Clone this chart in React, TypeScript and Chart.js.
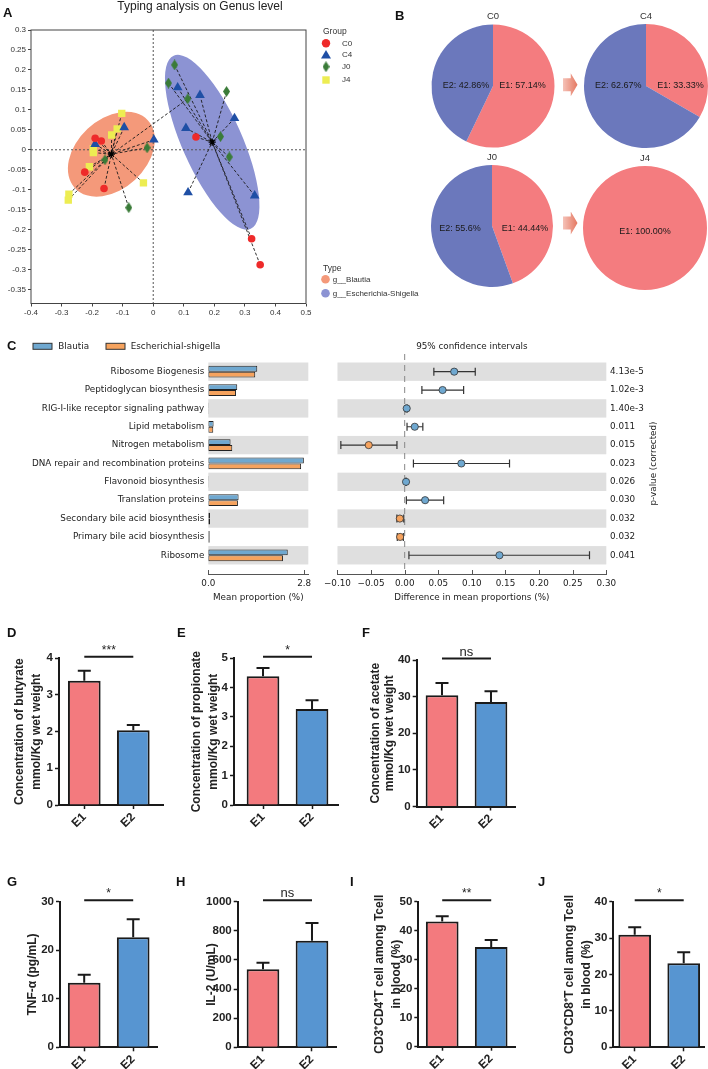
import React, { useEffect, useRef } from "react";
import { Chart, registerables } from "chart.js";

Chart.register(...registerables);

const SANS = "'Liberation Sans', Arial, Helvetica, sans-serif";
const DEJAVU = "'DejaVu Sans', 'Liberation Sans', sans-serif";

// ---------------- Panel A data ----------------
const groupNames = ["C0", "C4", "J0", "J4"];
const c0X = [-0.19, -0.17, -0.224, -0.161, 0.14, 0.322, 0.35];
const c0Y = [0.029, 0.022, -0.056, -0.097, 0.032, -0.223, -0.288];
const c0Type = [0, 0, 0, 0, 1, 1, 1];
const c4X = [-0.19, -0.095, 0.002, 0.08, 0.153, 0.107, 0.266, 0.114, 0.332];
const c4Y = [0.014, 0.056, 0.025, 0.156, 0.137, 0.054, 0.079, -0.107, -0.115];
const c4Type = [0, 0, 0, 1, 1, 1, 1, 1, 1];
const j0X = [0.07, 0.05, 0.113, 0.24, 0.22, 0.249, -0.02, -0.158, -0.08];
const j0Y = [0.2125, 0.167, 0.1275, 0.146, 0.033, -0.018, 0.005, -0.025, -0.145];
const j0Type = [1, 1, 0, 1, 1, 1, 0, 0, 0];
const j4X = [-0.103, -0.118, -0.136, -0.196, -0.196, -0.209, -0.032, -0.276, -0.278];
const j4Y = [0.091, 0.0525, 0.037, 0.0025, -0.007, -0.0425, -0.083, -0.111, -0.126];
const j4Type = [0, 0, 0, 0, 0, 0, 0, 0, 0];
const typeNames = ["g__Blautia", "g__Escherichia-Shigella"];
const typeCenterX = [-0.137, 0.193];
const typeCenterY = [-0.011, 0.019];
const typeSemiMajor = [0.163, 0.31];
const typeSemiMinor = [0.114, 0.098];
const typeTiltDeg = [-43, 66];

// ---------------- Panel B data ----------------
const pieTitles = ["C0", "C4", "J0", "J4"];
const pieE1 = [57.14, 33.33, 44.44, 100];
const pieE2 = [42.86, 66.67, 55.56, 0];
const pieLabelE1 = ["E1: 57.14%", "E1: 33.33%", "E1: 44.44%", "E1: 100.00%"];
const pieLabelE2 = ["E2: 42.86%", "E2: 62.67%", "E2: 55.6%", ""];

// ---------------- Panel C data ----------------
const pathways = [
  "Ribosome Biogenesis",
  "Peptidoglycan biosynthesis",
  "RIG-I-like receptor signaling pathway",
  "Lipid metabolism",
  "Nitrogen metabolism",
  "DNA repair and recombination proteins",
  "Flavonoid biosynthesis",
  "Translation proteins",
  "Secondary bile acid biosynthesis",
  "Primary bile acid biosynthesis",
  "Ribosome",
];
const blautiaMean = [1.43, 0.845, 0.012, 0.155, 0.65, 2.79, 0.012, 0.885, 0.05, 0.04, 2.32];
const escherichiaMean = [1.37, 0.81, 0.01, 0.145, 0.7, 2.71, 0.01, 0.865, 0.05, 0.04, 2.18];
const diffMean = [0.0737, 0.0564, 0.003, 0.015, -0.0535, 0.0843, 0.002, 0.0304, -0.0072, -0.0068, 0.141];
const diffLow = [0.0434, 0.0256, 0.002, 0.0035, -0.095, 0.013, 0.0015, 0.0025, -0.0116, -0.011, 0.0063];
const diffHigh = [0.105, 0.0877, 0.004, 0.027, -0.0115, 0.156, 0.0025, 0.058, -0.0014, -0.002, 0.275];
const pValues = ["4.13e-5", "1.02e-3", "1.40e-3", "0.011", "0.015", "0.023", "0.026", "0.030", "0.032", "0.032", "0.041"];
const meanPropTicks = [0, 2.8];

// ---------------- Panels D-J data ----------------
const barGroups = ["E1", "E2"];
const butyrateMean = [3.39, 2.04];
const butyrateErr = [0.27, 0.14];
const propionateMean = [4.39, 3.27];
const propionateErr = [0.28, 0.3];
const acetateMean = [30.4, 28.5];
const acetateErr = [3.3, 3.0];
const tnfMean = [13.3, 22.7];
const tnfErr = [1.66, 3.7];
const il2Mean = [536, 732];
const il2Err = [45, 122];
const cd4Mean = [43.2, 34.4];
const cd4Err = [1.8, 2.4];
const cd8Mean = [30.9, 23.1];
const cd8Err = [2.1, 3.0];
const sigLabels = ["***", "*", "ns", "*", "ns", "**", "*"];

// ---------------- Styles ----------------
const C0C = "#EE2A2A";
const C4C = "#1F4FA5";
const J0C = "#3A7B38";
const J4C = "#EDED52";
const typeColors = ["#F4997A", "#8C93D3"];
const PIE_E1 = "#F47C7F";
const PIE_E2 = "#6B78BC";
const BLAUTIA_C = "#6FA8D0";
const ESCH_C = "#F6A35E";
const BAR_E1 = "#F37A7E";
const BAR_E2 = "#5795D1";

function baseOptions(): any {
  return {
    responsive: false,
    maintainAspectRatio: false,
    animation: false,
    devicePixelRatio: 1,
    events: [],
    plugins: { legend: { display: false }, tooltip: { enabled: false }, title: { display: false } },
  };
}

function makeDiamond(color: string) {
  const c = document.createElement("canvas");
  c.width = 7;
  c.height = 11;
  const g = c.getContext("2d")!;
  g.fillStyle = color;
  g.beginPath();
  g.moveTo(3.5, 0);
  g.lineTo(7, 5.5);
  g.lineTo(3.5, 11);
  g.lineTo(0, 5.5);
  g.closePath();
  g.fill();
  return c;
}

function fmt2(v: any) {
  const n = Math.round(Number(v) * 100) / 100;
  return String(n === 0 ? 0 : n);
}

// ---------------- Panel A ----------------
function buildA() {
  const diamond = makeDiamond(J0C);
  const groups: any[] = [
    { xs: c0X, ys: c0Y, ts: c0Type, style: "circle", r: 3.8, color: C0C },
    { xs: c4X, ys: c4Y, ts: c4Type, style: "triangle", r: 5.6, color: C4C },
    { xs: j0X, ys: j0Y, ts: j0Type, style: diamond, r: 5, color: J0C },
    { xs: j4X, ys: j4Y, ts: j4Type, style: "rect", r: 5.2, color: J4C },
  ];
  const datasets: any[] = [];
  groups.forEach((g) =>
    g.xs.forEach((x: number, i: number) => {
      const t = g.ts[i];
      datasets.push({
        type: "line",
        data: [
          { x, y: g.ys[i] },
          { x: typeCenterX[t], y: typeCenterY[t] },
        ],
        borderColor: "#1a1a1a",
        borderWidth: 0.9,
        borderDash: [3, 2],
        pointRadius: 0,
        fill: false,
        order: 5,
      });
    })
  );
  groups.forEach((g, gi) =>
    datasets.push({
      type: "scatter",
      label: groupNames[gi],
      data: g.xs.map((x: number, i: number) => ({ x, y: g.ys[i] })),
      pointStyle: g.style,
      pointRadius: g.r,
      backgroundColor: g.color,
      borderColor: g.color,
      borderWidth: 0,
      order: 2,
    })
  );
  datasets.push({
    type: "scatter",
    data: typeCenterX.map((x, i) => ({ x, y: typeCenterY[i] })),
    pointStyle: "star",
    pointRadius: 3.6,
    borderColor: "#000",
    backgroundColor: "#000",
    borderWidth: 1.3,
    order: 1,
  });

  const decor = {
    id: "aDecor",
    beforeDatasetsDraw(chart: any) {
      const { ctx, chartArea: a } = chart;
      const xs = chart.scales.x;
      const ys = chart.scales.y;
      const ppu = Math.abs(xs.getPixelForValue(1) - xs.getPixelForValue(0));
      ctx.save();
      typeCenterX.forEach((cx, i) => {
        ctx.beginPath();
        ctx.ellipse(
          xs.getPixelForValue(cx),
          ys.getPixelForValue(typeCenterY[i]),
          typeSemiMajor[i] * ppu,
          typeSemiMinor[i] * ppu,
          (typeTiltDeg[i] * Math.PI) / 180,
          0,
          Math.PI * 2
        );
        ctx.fillStyle = typeColors[i];
        ctx.fill();
      });
      const x0 = xs.getPixelForValue(0);
      const y0 = ys.getPixelForValue(0);
      ctx.setLineDash([2, 2]);
      ctx.strokeStyle = "#555";
      ctx.lineWidth = 1;
      ctx.beginPath();
      ctx.moveTo(x0, a.top);
      ctx.lineTo(x0, a.bottom);
      ctx.moveTo(a.left, y0);
      ctx.lineTo(a.right, y0);
      ctx.stroke();
      ctx.restore();
    },
    afterDraw(chart: any) {
      const { ctx, chartArea: a } = chart;
      ctx.save();
      ctx.strokeStyle = "#444";
      ctx.lineWidth = 1;
      ctx.strokeRect(a.left, a.top, a.right - a.left, a.bottom - a.top);
      ctx.fillStyle = "#222";
      ctx.font = `12px ${SANS}`;
      ctx.textAlign = "center";
      ctx.textBaseline = "middle";
      ctx.fillText("Typing analysis on Genus level", 200, 6.5);
      // legend
      ctx.textAlign = "left";
      ctx.fillStyle = "#333";
      ctx.font = `8.5px ${SANS}`;
      ctx.fillText("Group", 323, 31.7);
      ctx.font = `8px ${SANS}`;
      const ly = [43.3, 55, 66.7, 80];
      ly.forEach((y, i) => ctx.fillText(groupNames[i], 342, y));
      ctx.fillStyle = C0C;
      ctx.beginPath();
      ctx.arc(326, ly[0], 4.2, 0, Math.PI * 2);
      ctx.fill();
      ctx.fillStyle = C4C;
      ctx.beginPath();
      ctx.moveTo(326, ly[1] - 5);
      ctx.lineTo(331, ly[1] + 3.5);
      ctx.lineTo(321, ly[1] + 3.5);
      ctx.closePath();
      ctx.fill();
      ctx.drawImage(diamond, 326 - 3.5, ly[2] - 5.5);
      ctx.fillStyle = J4C;
      ctx.fillRect(322.3, ly[3] - 3.7, 7.4, 7.4);
      ctx.fillStyle = "#333";
      ctx.font = `8.5px ${SANS}`;
      ctx.fillText("Type", 323, 268.3);
      ctx.font = `8px ${SANS}`;
      const ty = [279.3, 293.3];
      ty.forEach((y, i) => {
        ctx.fillStyle = typeColors[i];
        ctx.beginPath();
        ctx.arc(325.5, y, 4.3, 0, Math.PI * 2);
        ctx.fill();
        ctx.fillStyle = "#333";
        ctx.fillText(typeNames[i], 332.7, y);
      });
      ctx.restore();
    },
  };

  const tickFont = { size: 8, family: SANS };
  return {
    type: "scatter",
    data: { datasets },
    options: {
      ...baseOptions(),
      layout: { padding: { left: 0, top: 30, right: 114, bottom: 0 } },
      scales: {
        x: {
          type: "linear",
          min: -0.4,
          max: 0.5,
          afterFit: (s: any) => {
            s.height = 16.5;
          },
          border: { display: false },
          grid: { drawOnChartArea: false, drawTicks: true, tickLength: 3, color: "#444" },
          ticks: { stepSize: 0.1, includeBounds: false, padding: 1.5, font: tickFont, color: "#333", callback: fmt2, maxRotation: 0, autoSkip: false },
        },
        y: {
          type: "linear",
          min: -0.385,
          max: 0.3,
          afterFit: (s: any) => {
            s.width = 31;
          },
          border: { display: false },
          grid: { drawOnChartArea: false, drawTicks: true, tickLength: 3, color: "#444" },
          ticks: { stepSize: 0.05, includeBounds: false, padding: 2, font: tickFont, color: "#333", callback: fmt2, autoSkip: false },
        },
      },
    },
    plugins: [decor],
  };
}

// ---------------- Panel B ----------------
const pieGeom = [
  { cx: 492.5, cy: 86, r: 61.5, dx: [29.5, -27], dy: 0 },
  { cx: 646, cy: 86, r: 62, dx: [34.5, -27.7], dy: 0 },
  { cx: 492, cy: 226, r: 61, dx: [33, -32], dy: 3 },
  { cx: 645, cy: 227.5, r: 62, dx: [0, 0], dy: 3.5 },
];
const PIE_W = 150;
const PIE_H = 150;
const PIE_OX = 75;
const PIE_OY = 80;

function buildPie(i: number) {
  const g = pieGeom[i];
  const text = {
    id: "pieText",
    afterDraw(chart: any) {
      const { ctx } = chart;
      ctx.save();
      ctx.textAlign = "center";
      ctx.textBaseline = "middle";
      ctx.fillStyle = "#333";
      ctx.font = `9.5px ${SANS}`;
      ctx.fillText(pieTitles[i], PIE_OX, PIE_OY - g.r - 8);
      ctx.fillStyle = "#1a1a1a";
      ctx.font = `9px ${SANS}`;
      if (pieLabelE1[i]) ctx.fillText(pieLabelE1[i], PIE_OX + g.dx[0], PIE_OY + g.dy);
      if (pieLabelE2[i]) ctx.fillText(pieLabelE2[i], PIE_OX + g.dx[1], PIE_OY + g.dy);
      ctx.restore();
    },
  };
  return {
    type: "pie",
    data: {
      labels: ["E1", "E2"],
      datasets: [
        {
          data: [pieE1[i], pieE2[i]],
          backgroundColor: [PIE_E1, PIE_E2],
          borderWidth: 0,
          hoverOffset: 0,
          offset: 0,
        },
      ],
    },
    options: {
      ...baseOptions(),
      layout: {
        padding: {
          left: PIE_OX - g.r,
          right: PIE_W - PIE_OX - g.r,
          top: PIE_OY - g.r,
          bottom: PIE_H - PIE_OY - g.r,
        },
      },
    },
    plugins: [text],
  };
}

// ---------------- Panel C ----------------
const C_TOP = 330;
const C_H = 280;
const cTickFont = { size: 8.8, family: DEJAVU };

function bandsPlugin(extra: (chart: any) => void, before?: (chart: any) => void) {
  return {
    id: "cDecor",
    beforeDatasetsDraw(chart: any) {
      const { ctx, chartArea: a } = chart;
      const ys = chart.scales.y;
      ctx.save();
      ctx.fillStyle = "#DFDFDF";
      pathways.forEach((_, i) => {
        if (i % 2 !== 0) return;
        const y1 = ys.getPixelForValue(i - 0.5);
        const y2 = ys.getPixelForValue(i + 0.5);
        ctx.fillRect(a.left, y1, a.right - a.left, y2 - y1);
      });
      ctx.restore();
      if (before) before(chart);
    },
    afterDraw(chart: any) {
      const { ctx, chartArea: a } = chart;
      const xs = chart.scales.x;
      ctx.save();
      ctx.strokeStyle = "#555";
      ctx.lineWidth = 1;
      ctx.beginPath();
      xs.ticks.forEach((t: any) => {
        const px = Math.round(xs.getPixelForValue(t.value)) + 0.5;
        ctx.moveTo(px, a.bottom);
        ctx.lineTo(px, a.bottom - 4);
      });
      ctx.stroke();
      ctx.restore();
      extra(chart);
    },
  };
}

function buildCLeft() {
  const legend = (chart: any) => {
    const { ctx } = chart;
    ctx.save();
    ctx.strokeStyle = "#333";
    ctx.lineWidth = 1;
    ctx.fillStyle = BLAUTIA_C;
    ctx.fillRect(33, 13.3, 19, 6);
    ctx.strokeRect(33, 13.3, 19, 6);
    ctx.fillStyle = ESCH_C;
    ctx.fillRect(106, 13.3, 19, 6);
    ctx.strokeRect(106, 13.3, 19, 6);
    ctx.fillStyle = "#222";
    ctx.font = `8.8px ${DEJAVU}`;
    ctx.textBaseline = "middle";
    ctx.textAlign = "left";
    ctx.fillText("Blautia", 58.3, 16.3);
    ctx.fillText("Escherichial-shigella", 130.7, 16.3);
    ctx.restore();
  };
  return {
    type: "bar",
    data: {
      datasets: [
        {
          label: "Blautia",
          data: blautiaMean.map((v, i) => ({ x: v, y: i })),
          backgroundColor: BLAUTIA_C,
          borderColor: "#222",
          borderWidth: 1,
          borderSkipped: false,
          barPercentage: 1,
          categoryPercentage: 0.64,
        },
        {
          label: "Escherichial-shigella",
          data: escherichiaMean.map((v, i) => ({ x: v, y: i })),
          backgroundColor: ESCH_C,
          borderColor: "#222",
          borderWidth: 1,
          borderSkipped: false,
          barPercentage: 1,
          categoryPercentage: 0.64,
        },
      ],
    },
    options: {
      ...baseOptions(),
      indexAxis: "y",
      layout: { padding: { left: 0, top: 32.5, right: 11.7, bottom: 0 } },
      scales: {
        x: {
          type: "linear",
          offset: false,
          min: 0,
          max: 2.92,
          afterBuildTicks: (s: any) => {
            s.ticks = meanPropTicks.map((v) => ({ value: v }));
          },
          afterFit: (s: any) => {
            s.height = 36;
          },
          grid: { display: false, drawTicks: false, offset: false },
          border: { display: true, color: "#555", width: 1 },
          ticks: { font: cTickFont, color: "#222", padding: 4, maxRotation: 0, autoSkip: false, callback: (v: any) => Number(v).toFixed(1) },
          title: { display: true, text: "Mean proportion (%)", font: cTickFont, color: "#222", padding: { top: 0, bottom: 6.7 } },
        },
        y: {
          type: "linear",
          offset: false,
          reverse: true,
          min: -0.5,
          max: 11.02,
          afterBuildTicks: (s: any) => {
            s.ticks = pathways.map((_, i) => ({ value: i }));
          },
          afterFit: (s: any) => {
            s.width = 208.3;
          },
          grid: { display: false, drawTicks: false, offset: false },
          border: { display: false },
          ticks: { autoSkip: false, padding: 4, font: cTickFont, color: "#222", callback: (v: any) => pathways[v] ?? "" },
        },
      },
    },
    plugins: [bandsPlugin(legend)],
  };
}

function buildCRight() {
  const datasets: any[] = [];
  pathways.forEach((_, i) =>
    datasets.push({
      type: "line",
      data: [
        { x: diffLow[i], y: i },
        { x: diffHigh[i], y: i },
      ],
      borderColor: "#333",
      borderWidth: 1.2,
      pointStyle: "line",
      pointRotation: 90,
      pointRadius: 4,
      pointBorderColor: "#333",
      pointBorderWidth: 1.2,
      order: 3,
    })
  );
  datasets.push({
    type: "scatter",
    data: diffMean.map((x, i) => ({ x, y: i })),
    pointRadius: 3.6,
    pointBackgroundColor: diffMean.map((v) => (v >= 0 ? BLAUTIA_C : ESCH_C)),
    pointBorderColor: "#333",
    pointBorderWidth: 0.8,
    order: 1,
  });
  const zeroLine = (chart: any) => {
    const { ctx, chartArea: a } = chart;
    const x0 = chart.scales.x.getPixelForValue(0);
    ctx.save();
    ctx.strokeStyle = "#888";
    ctx.lineWidth = 1;
    ctx.setLineDash([6, 5]);
    ctx.beginPath();
    ctx.moveTo(x0, 24);
    ctx.lineTo(x0, a.bottom);
    ctx.stroke();
    ctx.restore();
  };
  const extra = (chart: any) => {
    const { ctx, chartArea: a } = chart;
    const ys = chart.scales.y;
    ctx.save();
    ctx.fillStyle = "#222";
    ctx.font = `8.8px ${DEJAVU}`;
    ctx.textBaseline = "middle";
    ctx.textAlign = "center";
    ctx.fillText("95% confidence intervals", (a.left + a.right) / 2, 16.5);
    ctx.textAlign = "left";
    pValues.forEach((p, i) => ctx.fillText(p, 290, ys.getPixelForValue(i)));
    const midY = (ys.getPixelForValue(-0.5) + ys.getPixelForValue(10.5)) / 2;
    ctx.translate(334, midY);
    ctx.rotate(-Math.PI / 2);
    ctx.textAlign = "center";
    ctx.fillText("p-value (corrected)", 0, 0);
    ctx.restore();
  };
  return {
    type: "scatter",
    data: { datasets },
    options: {
      ...baseOptions(),
      layout: { padding: { left: 9.5, top: 32.5, right: 101.7, bottom: 0 } },
      scales: {
        x: {
          type: "linear",
          offset: false,
          min: -0.1,
          max: 0.3,
          afterFit: (s: any) => {
            s.height = 36;
          },
          grid: { display: false, drawTicks: false },
          border: { display: true, color: "#555", width: 1 },
          ticks: {
            stepSize: 0.05,
            font: cTickFont,
            color: "#222",
            padding: 4,
            maxRotation: 0,
            autoSkip: false,
            callback: (v: any) => {
              const n = Math.round(Number(v) * 100) / 100;
              return (n < 0 ? "\u2212" : "") + Math.abs(n).toFixed(2);
            },
          },
          title: { display: true, text: "Difference in mean proportions (%)", font: cTickFont, color: "#222", padding: { top: 0, bottom: 6.7 } },
        },
        y: { type: "linear", offset: false, display: false, reverse: true, min: -0.5, max: 11.02 },
      },
    },
    plugins: [bandsPlugin(extra, zeroLine)],
  };
}

// ---------------- Panels D-J ----------------
const barPanels: any[] = [
  { values: butyrateMean, errs: butyrateErr, sig: sigLabels[0], yMax: 4, yStep: 1, title: ["Concentration of butyrate", "mmol/Kg wet weight"], box: { left: 0, top: 620, width: 175, height: 225 }, area: { l: 59, r: 163, t: 658.3, b: 805 }, xRange: [0.484, 2.606], titleX: 20, titleLH: 16.7 },
  { values: propionateMean, errs: propionateErr, sig: sigLabels[1], yMax: 5, yStep: 1, title: ["Concentration of propionate", "mmol/Kg wet weight"], box: { left: 175, top: 620, width: 175, height: 225 }, area: { l: 234, r: 338, t: 658.3, b: 805 }, xRange: [0.408, 2.53], titleX: 21.7, titleLH: 16.6 },
  { values: acetateMean, errs: acetateErr, sig: sigLabels[2], yMax: 40, yStep: 10, title: ["Concentration of acetate", "mmol/Kg wet weight"], box: { left: 350, top: 620, width: 180, height: 225 }, area: { l: 416.7, r: 515, t: 660, b: 806.5 }, xRange: [0.484, 2.49], titleX: 25.3, titleLH: 14 },
  { values: tnfMean, errs: tnfErr, sig: sigLabels[3], yMax: 30, yStep: 10, title: ["TNF-\u03b1 (pg/mL)"], box: { left: 0, top: 860, width: 175, height: 209 }, area: { l: 60, r: 157, t: 901.7, b: 1047.3 }, xRange: [0.506, 2.486], titleX: 32.3, titleLH: 16.7 },
  { values: il2Mean, errs: il2Err, sig: sigLabels[4], yMax: 1000, yStep: 200, title: ["IL-2 (U/mL)"], box: { left: 175, top: 860, width: 175, height: 209 }, area: { l: 237.7, r: 336, t: 901.7, b: 1047.3 }, xRange: [0.484, 2.49], titleX: 36.7, titleLH: 16.7 },
  { values: cd4Mean, errs: cd4Err, sig: sigLabels[5], yMax: 50, yStep: 10, title: ["CD3\u207aCD4\u207aT cell among Tcell", "in blood (%)"], box: { left: 350, top: 860, width: 180, height: 209 }, area: { l: 418.3, r: 515.7, t: 901.7, b: 1046.7 }, xRange: [0.512, 2.5], titleX: 30, titleLH: 16.7 },
  { values: cd8Mean, errs: cd8Err, sig: sigLabels[6], yMax: 40, yStep: 10, title: ["CD3\u207aCD8\u207aT cell among Tcell", "in blood (%)"], box: { left: 530, top: 860, width: 178, height: 209 }, area: { l: 613.3, r: 704, t: 901.7, b: 1047.3 }, xRange: [0.563, 2.414], titleX: 40, titleLH: 16.7 },
];

function buildBar(p: any) {
  const { box, area } = p;
  const decor = {
    id: "barDecor",
    afterDatasetsDraw(chart: any) {
      const { ctx, chartArea } = chart;
      const ys = chart.scales.y;
      const meta = chart.getDatasetMeta(0);
      ctx.save();
      ctx.strokeStyle = "#1a1a1a";
      ctx.lineWidth = 2;
      meta.data.forEach((bar: any, i: number) => {
        const x = bar.x;
        const y0 = ys.getPixelForValue(p.values[i]);
        const y1 = ys.getPixelForValue(p.values[i] + p.errs[i]);
        ctx.beginPath();
        ctx.moveTo(x, y0);
        ctx.lineTo(x, y1);
        ctx.moveTo(x - 6.5, y1);
        ctx.lineTo(x + 6.5, y1);
        ctx.stroke();
      });
      const xa = meta.data[0].x;
      const xb = meta.data[1].x;
      const ly = chartArea.top - 1.5;
      ctx.beginPath();
      ctx.moveTo(xa, ly);
      ctx.lineTo(xb, ly);
      ctx.stroke();
      ctx.fillStyle = "#222";
      ctx.textAlign = "center";
      ctx.textBaseline = "alphabetic";
      ctx.font = p.sig === "ns" ? `13px ${SANS}` : `12px ${SANS}`;
      ctx.fillText(p.sig, (xa + xb) / 2, ly - 3);
      ctx.restore();
    },
  };
  const axisGrid = { drawOnChartArea: false, drawTicks: true, tickLength: 4, tickWidth: 1.5, tickColor: "#1a1a1a", color: "#1a1a1a", offset: false };
  return {
    type: "bar",
    data: {
      datasets: [
        {
          data: p.values.map((v: number, i: number) => ({ x: i + 1, y: v })),
          backgroundColor: [BAR_E1, BAR_E2],
          borderColor: "#1a1a1a",
          borderWidth: 2,
          borderSkipped: "bottom",
          barPercentage: 0.667,
          categoryPercentage: 1,
        },
      ],
    },
    options: {
      ...baseOptions(),
      layout: { padding: { left: 0, top: area.t - box.top, right: box.left + box.width - area.r, bottom: 0 } },
      scales: {
        x: {
          type: "linear",
          offset: false,
          min: p.xRange[0],
          max: p.xRange[1],
          afterBuildTicks: (s: any) => {
            s.ticks = barGroups.map((_, i) => ({ value: i + 1 }));
          },
          afterFit: (s: any) => {
            s.height = box.top + box.height - area.b;
          },
          grid: axisGrid,
          border: { display: true, color: "#1a1a1a", width: 2 },
          ticks: { minRotation: 45, maxRotation: 45, autoSkip: false, padding: 1, font: { size: 12, weight: "bold", family: SANS }, color: "#222", callback: (v: any) => barGroups[Math.round(Number(v)) - 1] ?? "" },
        },
        y: {
          type: "linear",
          offset: false,
          min: 0,
          max: p.yMax,
          afterFit: (s: any) => {
            s.width = area.l - box.left;
          },
          grid: axisGrid,
          border: { display: true, color: "#1a1a1a", width: 2 },
          ticks: { stepSize: p.yStep, padding: 2, font: { size: 11.5, weight: "bold", family: SANS }, color: "#222", callback: (v: any) => String(v) },
          title: {
            display: true,
            text: p.title,
            color: "#222",
            font: { size: 12, weight: "bold", family: SANS, lineHeight: `${p.titleLH}px` },
            padding: { top: p.titleX - p.titleLH / 2, bottom: 0 },
          },
        },
      },
    },
    plugins: [decor],
  };
}

// ---------------- Components ----------------
function ChartBox({ left, top, width, height, build }: { left: number; top: number; width: number; height: number; build: () => any }) {
  const ref = useRef<HTMLCanvasElement | null>(null);
  useEffect(() => {
    if (!ref.current) return;
    const chart = new Chart(ref.current, build());
    return () => chart.destroy();
  }, []);
  return (
    <div style={{ position: "absolute", left, top, width, height }}>
      <canvas ref={ref} width={width} height={height} style={{ display: "block", width, height }} />
    </div>
  );
}

function Arrow({ left, top }: { left: number; top: number }) {
  return (
    <div
      style={{
        position: "absolute",
        left,
        top,
        width: 15,
        height: 23,
        background: "linear-gradient(to right, #F5C2B8, #E4765F)",
        clipPath: "polygon(0 22%, 55% 22%, 55% 0, 100% 50%, 55% 100%, 55% 78%, 0 78%)",
      }}
    />
  );
}

const panelLabels: [string, number, number][] = [
  ["A", 3, 13],
  ["B", 395, 16],
  ["C", 7, 346],
  ["D", 7, 633],
  ["E", 177, 633],
  ["F", 362, 633],
  ["G", 7, 882],
  ["H", 176, 882],
  ["I", 350, 882],
  ["J", 538, 882],
];

export default function App() {
  return (
    <div style={{ position: "absolute", left: 0, top: 0, width: 708, height: 1069, overflow: "hidden", background: "#fff", fontFamily: SANS }}>
      <ChartBox left={0} top={0} width={420} height={320} build={buildA} />
      {pieGeom.map((g, i) => (
        <ChartBox key={"pie" + i} left={g.cx - PIE_OX} top={g.cy - PIE_OY} width={PIE_W} height={PIE_H} build={() => buildPie(i)} />
      ))}
      <Arrow left={562.5} top={73.3} />
      <Arrow left={562.5} top={211.5} />
      <ChartBox left={0} top={C_TOP} width={320} height={C_H} build={buildCLeft} />
      <ChartBox left={320} top={C_TOP} width={388} height={C_H} build={buildCRight} />
      {barPanels.map((p, i) => (
        <ChartBox key={"bar" + i} left={p.box.left} top={p.box.top} width={p.box.width} height={p.box.height} build={() => buildBar(p)} />
      ))}
      {panelLabels.map(([t, x, y]) => (
        <div key={t} style={{ position: "absolute", left: x, top: y - 8, lineHeight: "16px", fontSize: 13, fontWeight: "bold", color: "#111", fontFamily: SANS }}>
          {t}
        </div>
      ))}
    </div>
  );
}
